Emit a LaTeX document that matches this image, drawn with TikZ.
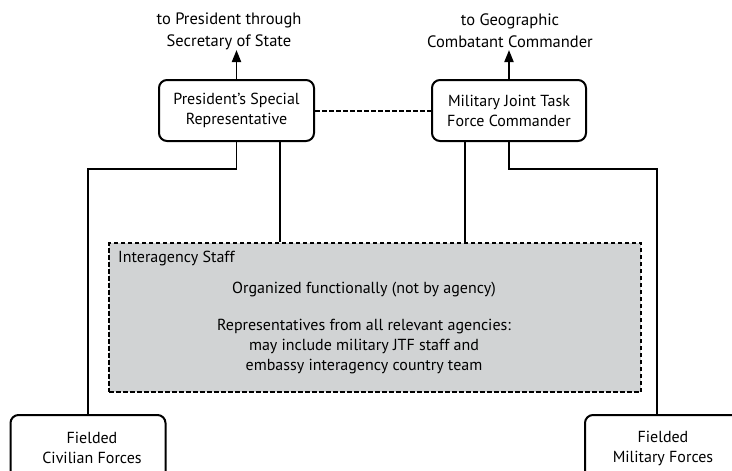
\documentclass[tikz,border=0pt]{standalone}
\usepackage{fontspec}
\setmainfont{PT Sans}
\usetikzlibrary{arrows.meta}
\definecolor{staffgray}{HTML}{D1D3D4}
\tikzset{
  every node/.style={font=\fontsize{16}{20}\selectfont, align=center, inner sep=0pt},
  rbox/.style={draw, line width=2pt, rounded corners=8pt, fill=white},
  conn/.style={line width=1.8pt},
  arr/.style={line width=1.8pt, -{Triangle[width=9pt,length=12pt]}},
  dconn/.style={line width=2pt, dash pattern=on 4.5pt off 2.5pt},
  staffbox/.style={draw, line width=2pt, dash pattern=on 4.5pt off 2.5pt, fill=staffgray}
}
\begin{document}
\begin{tikzpicture}[x=1pt,y=-1pt]
\useasboundingbox (0,0) rectangle (732,471);
\begin{scope}
\clip (0,0) rectangle (732,471);
% top texts
\node[font=\fontsize{16.5}{22}\selectfont] (t1) at (229,31) {to President through\\Secretary of State};
\node[font=\fontsize{16.5}{22}\selectfont] (t2) at (510,31) {to Geographic\\Combatant Commander};
% command boxes
\node[rbox, minimum width=155pt, minimum height=61pt] (psr) at (236.5,110.5) {President’s Special\\Representative};
\node[rbox, minimum width=154pt, minimum height=61pt] (jtf) at (509,110.5) {Military Joint Task\\Force Commander};
% staff
\node[staffbox, minimum width=532pt, minimum height=149pt] (staff) at (375,317.5) {};
\node[anchor=west] (stafft) at (118,258) {Interagency Staff};
\node (org) at (364,290) {Organized functionally (not by agency)};
\node (rep) at (364,347) {Representatives from all relevant agencies:\\may include military JTF staff and\\embassy interagency country team};
% fielded forces
\node[rbox, minimum width=155pt, minimum height=90pt, anchor=north] (civ) at (88,414) {};
\node[rbox, minimum width=156pt, minimum height=90pt, anchor=north] (mil) at (663,414) {};
\node (civt) at (92,448) {Fielded\\Civilian Forces};
\node (milt) at (663,448) {Fielded\\Military Forces};
% connectors
\draw[arr] (psr.north) -- (psr.north |- 0,50);
\draw[arr] (jtf.north) -- (jtf.north |- 0,50);
\draw[dconn] (psr.east) -- (jtf.west);
\draw[conn] (psr.south) -- ++(0,27) -| (civ.north);
\draw[conn] (jtf.south) -- ++(0,27) -| ([xshift=-6pt]mil.north);
\draw[conn] ([xshift=43.5pt]psr.south) -- ([xshift=43.5pt]psr.south |- staff.north);
\draw[conn] ([xshift=-44pt]jtf.south) -- ([xshift=-44pt]jtf.south |- staff.north);
\end{scope}
\end{tikzpicture}
\end{document}
